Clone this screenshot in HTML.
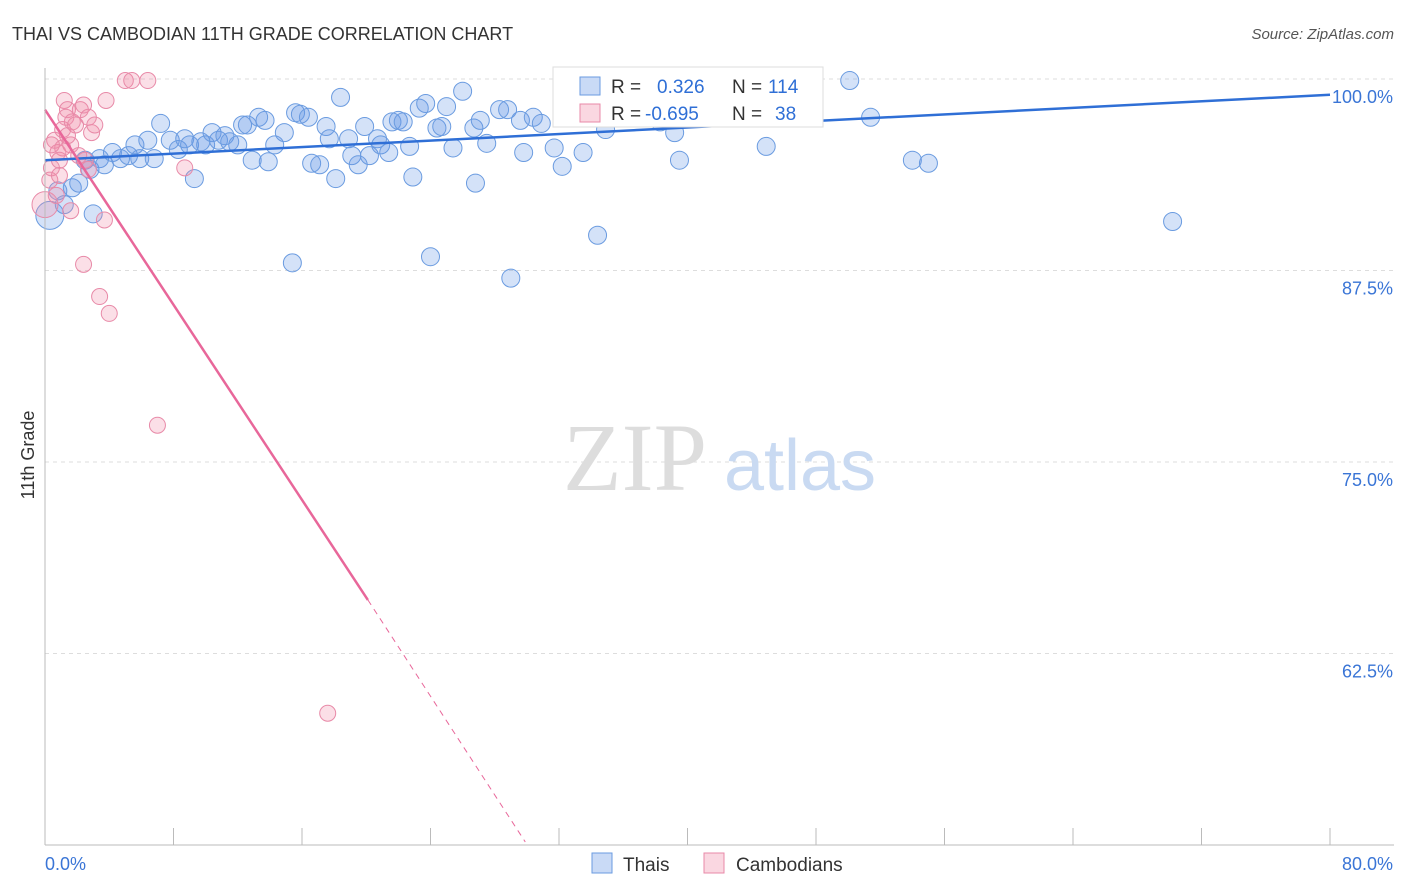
<!DOCTYPE html>
<html><head><meta charset="utf-8"><style>
body{margin:0;background:#fff;font-family:"Liberation Sans",sans-serif;}
svg{display:block}
</style></head><body>
<svg id="chart" width="1406" height="892" xmlns="http://www.w3.org/2000/svg">
<text x="12" y="40" font-size="18" fill="#333">THAI VS CAMBODIAN 11TH GRADE CORRELATION CHART</text>
<text x="1394" y="39" font-size="15" fill="#555" font-style="italic" text-anchor="end">Source: ZipAtlas.com</text>
<g id="grid"></g>
<text x="635" y="490" font-size="96" fill="#ddd" font-family="Liberation Serif" text-anchor="middle">ZIP</text>
<text x="800" y="490" font-size="72" fill="#c9daf2" text-anchor="middle">atlas</text>
<g id="pts"></g>
<g id="lines"></g>
<g id="axes"></g>
<text x="34" y="455" font-size="18" fill="#333" transform="rotate(-90 34 455)" text-anchor="middle">11th Grade</text>
<g>
<rect x="553" y="67" width="270" height="60" fill="#fff" stroke="#ddd"/>
<rect x="580" y="77" width="20" height="18" fill="rgba(100,150,230,0.35)" stroke="#6a9be0"/>
<rect x="580" y="104" width="20" height="18" fill="rgba(240,140,170,0.35)" stroke="#e88aa8"/>
<text x="611" y="93" font-size="19" fill="#333">R = <tspan x="657" fill="#2f6fd6">0.326</tspan><tspan x="732" fill="#333">N =</tspan><tspan x="768" fill="#2f6fd6">114</tspan></text>
<text x="611" y="120" font-size="19" fill="#333">R = <tspan x="645" fill="#2f6fd6">-0.695</tspan><tspan x="732" fill="#333">N =</tspan><tspan x="775" fill="#2f6fd6">38</tspan></text>
</g>
<g>
<rect x="592" y="853" width="20" height="20" fill="rgba(100,150,230,0.35)" stroke="#6a9be0"/>
<text x="623" y="871" font-size="19" fill="#333">Thais</text>
<rect x="704" y="853" width="20" height="20" fill="rgba(240,140,170,0.35)" stroke="#e88aa8"/>
<text x="736" y="871" font-size="19" fill="#333">Cambodians</text>
</g>
</svg>
<script>
const yTicks=[100,87.5,75,62.5];
const yTickLabels=["100.0%","87.5%","75.0%","62.5%"];
const xTicks=[0,8,16,24,32,40,48,56,64,72,80];
const thaiX=[0.3,0.8,1.2,1.7,2.1,3.0,2.5,2.8,3.4,3.7,4.2,4.7,5.2,5.6,5.9,6.4,6.8,7.2,7.8,8.3,8.7,9.0,9.3,9.7,10.0,10.4,10.8,11.2,11.5,12.0,12.3,12.6,12.9,13.3,13.7,13.9,14.3,14.9,15.4,15.6,15.9,16.4,16.6,17.1,17.5,17.7,18.1,18.4,18.9,19.1,19.5,19.9,20.2,20.7,20.9,21.4,21.6,22.0,22.3,22.7,22.9,23.3,23.7,24.0,24.4,24.7,25.0,25.4,26.0,26.7,26.8,27.1,27.5,28.3,28.8,29.0,29.6,29.8,30.4,30.9,31.7,32.2,32.8,33.5,34.4,34.9,36.1,37.0,38.3,39.2,39.5,40.8,41.7,43.6,44.9,47.0,47.6,50.1,51.4,54.0,55.0,70.2];
const thaiY=[91.1,92.7,91.8,92.9,93.2,91.2,94.7,94.1,94.8,94.4,95.2,94.8,95.0,95.7,94.8,96.0,94.8,97.1,96.0,95.4,96.1,95.7,93.5,95.9,95.7,96.5,96.0,96.3,95.9,95.7,97.0,97.0,94.7,97.5,97.3,94.6,95.7,96.5,88.0,97.8,97.7,97.5,94.5,94.4,96.9,96.1,93.5,98.8,96.1,95.0,94.4,96.9,95.0,96.1,95.7,95.2,97.2,97.3,97.2,95.6,93.6,98.1,98.4,88.4,96.8,96.9,98.2,95.5,99.2,96.8,93.2,97.3,95.8,98.0,98.0,87.0,97.3,95.2,97.5,97.1,95.5,94.3,99.9,95.2,89.8,96.7,98.0,99.0,97.2,96.5,94.7,99.6,99.9,99.9,95.6,98.6,99.0,99.9,97.5,94.7,94.5,90.7];
const cambX=[0.0,0.3,0.4,0.6,0.8,0.9,1.1,1.2,1.3,1.4,1.6,1.6,1.7,1.9,2.2,2.4,2.5,2.4,2.7,2.9,3.1,3.4,3.7,3.8,4.0,5.0,5.4,6.4,7.0,8.7,17.6,0.9,0.7,1.1,2.1,1.4,0.4,2.7];
const cambY=[91.8,93.4,94.2,96.0,95.2,94.7,96.7,98.6,97.5,98.0,95.7,91.4,97.2,97.0,98.0,98.3,94.7,87.9,97.5,96.5,97.0,85.8,90.8,98.6,84.7,99.9,99.9,99.9,77.4,94.2,58.6,93.7,92.4,95.5,95.0,96.3,95.7,94.1];
const thaiTrend=[[0,94.7],[80,98.97]];
const cambTrendSolid=[[0,98.0],[20.1,66.0]];
const cambTrendDash=[[20.1,66.0],[29.9,50.2]];
const NS="http://www.w3.org/2000/svg";
const X0=45,X1=1330,YT=79,YB=845;
function sx(v){return X0+(v-0)/80*(X1-X0);}
function sy(v){return YT+(100-v)/50*(YB-YT);}
function mk(tag,attrs,parent){const e=document.createElementNS(NS,tag);for(const k in attrs)e.setAttribute(k,attrs[k]);parent.appendChild(e);return e;}
const grid=document.getElementById('grid'),axes=document.getElementById('axes'),pts=document.getElementById('pts'),lines=document.getElementById('lines');
yTicks.forEach((t,i)=>{
 const l=mk('line',{x1:X0,x2:1394,y1:sy(t),y2:sy(t),stroke:'#ddd','stroke-dasharray':'4,4'},grid);
 
 
 const tx=mk('text',{x:1393,y:sy(t)+24,'font-size':18,fill:'#3a75d6','text-anchor':'end'},axes);
 tx.textContent=yTickLabels[i];
 
 
});
const ax=mk('line',{x1:X0,x2:1394,y1:YB,y2:YB,stroke:'#bbb'},axes);


const ay=mk('line',{x1:X0,x2:X0,y1:68,y2:YB,stroke:'#bbb'},axes);


xTicks.forEach(t=>{
 const l=mk('line',{x1:sx(t),x2:sx(t),y1:828,y2:YB,stroke:'#bbb'},axes);
 
 
});
const xl0=mk('text',{x:45,y:870,'font-size':18,fill:'#3a75d6'},axes);xl0.textContent='0.0%';


const xl1=mk('text',{x:1393,y:870,'font-size':18,fill:'#3a75d6','text-anchor':'end'},axes);xl1.textContent='80.0%';


thaiX.forEach((v,i)=>{
 const c=mk('circle',{cx:sx(v),cy:sy(thaiY[i]),r:i===0?14:9,fill:'rgba(100,150,230,0.28)',stroke:'#6a9be0','stroke-width':1},pts);
 
 
});
cambX.forEach((v,i)=>{
 const c=mk('circle',{cx:sx(v),cy:sy(cambY[i]),r:i===0?13:8,fill:'rgba(240,140,170,0.28)',stroke:'#e88aa8','stroke-width':1},pts);
 
 
});
function seg(d,attrs,name){const l=mk('line',Object.assign({x1:sx(d[0][0]),y1:sy(d[0][1]),x2:sx(d[1][0]),y2:sy(d[1][1])},attrs),lines);
 
 }
seg(thaiTrend,{stroke:'#2f6fd6','stroke-width':2.5},'thai-trend-line');
seg(cambTrendSolid,{stroke:'#e8679a','stroke-width':2.5},'cambodian-trend-line');
seg(cambTrendDash,{stroke:'#e8679a','stroke-width':1,'stroke-dasharray':'6,5'},'cambodian-trend-extension');
</script>
</body></html>
